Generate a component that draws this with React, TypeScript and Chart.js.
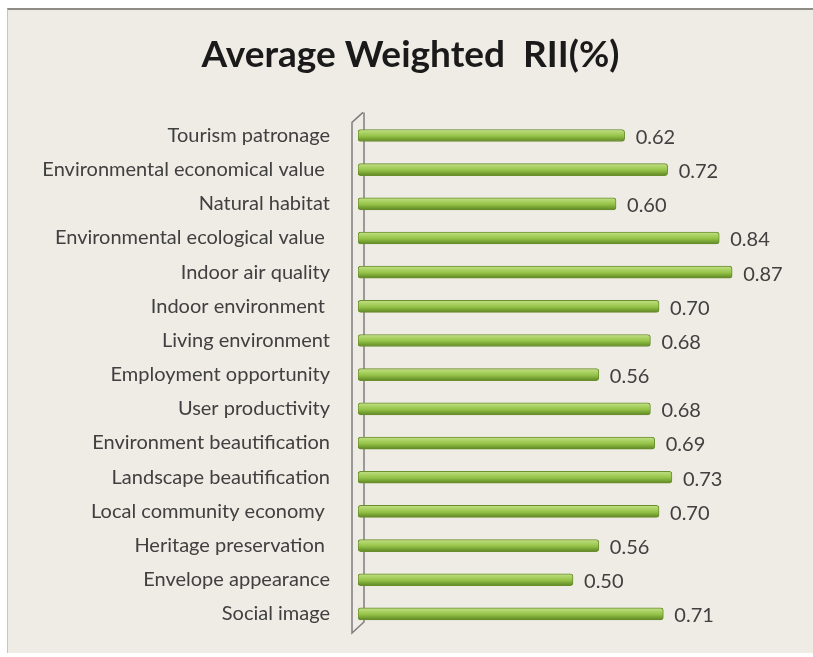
import React, { useEffect, useRef } from "react";
import { Chart, registerables } from "chart.js";

Chart.register(...registerables);

const categories = [
  "Tourism patronage",
  "Environmental economical value ",
  "Natural habitat",
  "Environmental ecological value ",
  "Indoor air quality",
  "Indoor environment ",
  "Living environment",
  "Employment opportunity",
  "User productivity",
  "Environment beautification",
  "Landscape beautification",
  "Local community economy ",
  "Heritage preservation ",
  "Envelope appearance",
  "Social image",
];

const values = [0.62, 0.72, 0.6, 0.84, 0.87, 0.7, 0.68, 0.56, 0.68, 0.69, 0.73, 0.7, 0.56, 0.5, 0.71];

const titleText = "Average Weighted  RII(%)";
const FONT = "Lato, 'Open Sans', sans-serif";

const wallPlugin = {
  id: "wall",
  beforeDatasetsDraw(chart: any) {
    const { ctx, chartArea } = chart;
    const x0 = chart.scales.x.getPixelForValue(0);
    const top = chartArea.top;
    const bottom = chartArea.bottom;
    ctx.save();
    ctx.strokeStyle = "#7f7f7f";
    ctx.lineWidth = 1.5;
    ctx.beginPath();
    ctx.moveTo(x0 + 5, top - 6);
    ctx.lineTo(x0 - 6, top + 4);
    ctx.lineTo(x0 - 6, bottom + 2);
    ctx.lineTo(x0 + 6, bottom - 9);
    ctx.lineTo(x0 + 6, top - 6);
    ctx.stroke();
    ctx.restore();
  },
};

const labelPlugin = {
  id: "valueLabels",
  afterDatasetsDraw(chart: any) {
    const { ctx } = chart;
    const meta = chart.getDatasetMeta(0);
    ctx.save();
    ctx.font = `20px ${FONT}`;
    ctx.fillStyle = "#404040";
    ctx.textAlign = "left";
    ctx.textBaseline = "middle";
    meta.data.forEach((bar: any, i: number) => {
      const v = chart.data.datasets[0].data[i] as number;
      ctx.fillText(v.toFixed(2), bar.x + 11, bar.y + 2);
    });
    ctx.restore();
  },
};

export default function App() {
  const ref = useRef<HTMLCanvasElement>(null);

  useEffect(() => {
    document.body.style.margin = "0";
    const canvas = ref.current!;
    const chart = new Chart(canvas, {
      type: "bar",
      data: {
        labels: categories,
        datasets: [
          {
            data: values,
            backgroundColor: (c: any) => {
              const ch = c.chart;
              if (!ch.chartArea || !ch.scales.y) return "#94c247";
              const y = ch.scales.y.getPixelForValue(c.dataIndex);
              const g = ch.ctx.createLinearGradient(0, y - 6, 0, y + 6);
              g.addColorStop(0, "#c3e088");
              g.addColorStop(0.3, "#a9d162");
              g.addColorStop(0.55, "#94c247");
              g.addColorStop(1, "#5e8624");
              return g;
            },
            borderColor: "#6a8e2e",
            borderWidth: 1,
            borderRadius: 3,
            borderSkipped: false,
            barThickness: 12,
          },
        ],
      },
      options: {
        indexAxis: "y",
        animation: false,
        responsive: false,
        maintainAspectRatio: false,
        layout: { padding: { left: 0, right: 0, top: 0, bottom: 22 } },
        plugins: {
          legend: { display: false },
          tooltip: { enabled: false },
          title: {
            display: true,
            text: titleText,
            color: "#1a1a1a",
            font: { family: FONT, size: 37, weight: "bold" },
            padding: { top: 23, bottom: 41 },
          },
        },
        scales: {
          x: {
            display: false,
            min: 0,
            max: 1.058,
            grid: { display: false },
          },
          y: {
            grid: { display: false },
            border: { display: false },
            ticks: {
              color: "#404040",
              font: { family: FONT, size: 20 },
              padding: 20,
              autoSkip: false,
            },
            afterFit: (scale: any) => {
              scale.width = 350;
              scale.paddingTop = 0;
              scale.paddingBottom = 0;
            },
          },
        },
      },
      plugins: [wallPlugin, labelPlugin],
    });
    return () => chart.destroy();
  }, []);

  return (
    <div style={{ position: "relative", width: 813, height: 657, background: "#ffffff" }}>
      <div
        style={{
          position: "absolute",
          left: 7,
          top: 8,
          width: 806,
          height: 645,
          boxSizing: "border-box",
          background: "#efebe5",
          borderTop: "2px solid #8e8d85",
          borderLeft: "1px solid #c9c5bd",
        }}
      >
        <canvas ref={ref} width={805} height={643} style={{ display: "block" }} />
      </div>
    </div>
  );
}
